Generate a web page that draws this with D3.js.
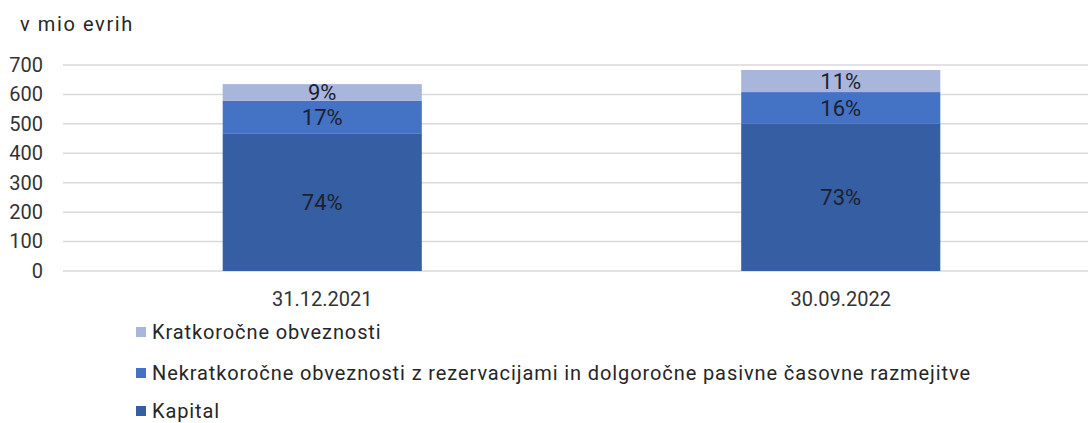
<!DOCTYPE html>
<html><head><meta charset="utf-8">
<script src="https://cdn.jsdelivr.net/npm/d3@7"></script>
<style>
html,body{margin:0;padding:0;background:#fff;}
text{font-family:Roboto,"Noto Sans",sans-serif;}
</style></head>
<body><svg id="c" width="1088" height="423"></svg>
<script>
const categories = ["31.12.2021", "30.09.2022"];
const seriesNames = ["Kapital", "Nekratkoročne obveznosti z rezervacijami in dolgoročne pasivne časovne razmejitve", "Kratkoročne obveznosti"];
const kapital = [468, 500];
const nekratkorocne = [111, 108];
const kratkorocne = [56, 75];
const pctKapital = ["74%", "73%"];
const pctNekratkorocne = ["17%", "16%"];
const pctKratkorocne = ["9%", "11%"];
const yTicks = [0, 100, 200, 300, 400, 500, 600, 700];
const colors = ["#365ea2", "#4472c4", "#a9b6dc"];

const svg = d3.select("#c");
const x = d3.scaleBand().domain(categories).range([63, 1100]).paddingInner(0.616).paddingOuter(0.308);
const y = d3.scaleLinear().domain([0, 700]).range([271, 65]);

svg.append("text").attr("x", 20).attr("y", 31).attr("font-size", 20).attr("letter-spacing", 1.6).attr("fill", "#262626").text("v mio evrih");

// gridlines
svg.append("g").selectAll("line").data(yTicks).join("line")
  .attr("x1", 63).attr("x2", 1088).attr("y1", d => y(d)).attr("y2", d => y(d))
  .attr("stroke", "#d9d9d9").attr("stroke-width", 1.5);

const yAxis = d3.axisLeft(y).tickValues(yTicks).tickSize(0).tickPadding(0);
const ga = svg.append("g").attr("transform", "translate(43,0)").call(yAxis);
ga.select(".domain").remove();
ga.selectAll("text").attr("font-size", 20).attr("fill", "#333").attr("font-family", "Roboto,sans-serif");

const pcts = [pctKapital, pctNekratkorocne, pctKratkorocne];
const table = categories.map((c, i) => ({cat: c, s0: kapital[i], s1: nekratkorocne[i], s2: kratkorocne[i]}));
const stack = d3.stack().keys(["s0", "s1", "s2"])(table);

stack.forEach((layer, li) => {
  svg.append("g").selectAll("rect").data(layer).join("rect")
    .attr("x", d => x(d.data.cat)).attr("width", x.bandwidth())
    .attr("y", d => y(d[1])).attr("height", d => y(d[0]) - y(d[1]))
    .attr("fill", colors[li]);
});
stack.forEach((layer, li) => {
  svg.append("g").selectAll("text").data(layer).join("text")
    .attr("x", d => x(d.data.cat) + x.bandwidth() / 2)
    .attr("y", d => (y(d[0]) + y(d[1])) / 2)
    .attr("dy", "0.36em").attr("text-anchor", "middle")
    .attr("font-size", 22).attr("fill", "#1c2130")
    .text((d, i) => pcts[li][i]);
});

const xAxis = d3.axisBottom(x).tickSize(0).tickPadding(0);
const gx = svg.append("g").attr("transform", "translate(0,271)").call(xAxis);
gx.select(".domain").remove();
gx.selectAll("text").attr("font-size", 20).attr("fill", "#333").attr("dy", 0).attr("y", 35).attr("font-family", "Roboto,sans-serif");

// legend (reverse order)
const legendOrder = [2, 1, 0];
const legendY = [332, 373, 411];
const lg = svg.append("g");
legendOrder.forEach((si, k) => {
  lg.append("rect").attr("x", 136).attr("y", legendY[k] - 5).attr("width", 10).attr("height", 10).attr("fill", colors[si]);
  lg.append("text").attr("x", 152).attr("y", legendY[k]).attr("dy", "0.36em")
    .attr("font-size", 20).attr("letter-spacing", 0.9).attr("fill", "#262626").text(seriesNames[si]);
});
</script></body></html>
